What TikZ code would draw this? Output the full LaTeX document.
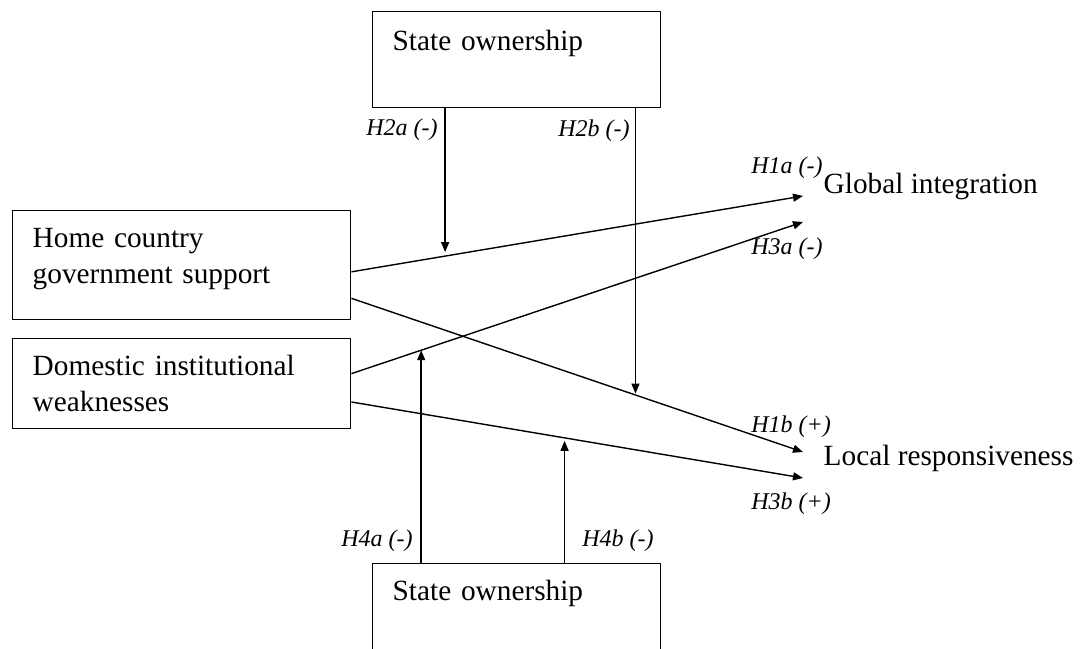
\documentclass[tikz,border=0pt]{standalone}
\usepackage{fontspec}
\setmainfont{Liberation Serif}
\usetikzlibrary{arrows.meta}
\usetikzlibrary{calc}

\tikzset{
  boxnode/.style={draw,anchor=north west,align=left,inner xsep=10pt,inner ysep=0pt,text height=18.5pt,font=\fontsize{14.65}{18}\selectfont},
  outcome/.style={anchor=base west,inner sep=0pt,font=\fontsize{14.65}{18}\selectfont},
  hyplabel/.style={inner sep=0pt,font=\fontsize{12}{14}\selectfont\itshape},
}

\begin{document}
\begin{tikzpicture}[x=0.5pt,y=-0.5pt,>={Triangle[length=5pt,width=4pt]},line join=bevel,line width=0.7pt]
%%
\useasboundingbox (0,0) rectangle (1080,648);
\node (node_so_top) at (372,11) [boxnode,text width=124pt,text height=19.5pt,text depth=28.5pt] {State ownership};
  \node (node_home) at (12,210) [boxnode,text width=149pt,text depth=36pt] {Home country\\government support};
  \node (node_dom) at (12,338) [boxnode,text width=149pt,text depth=26.5pt] {Domestic institutional\\weaknesses};
  \node (node_so_bot) at (372,563) [boxnode,text width=124pt,text depth=29.5pt] {State ownership};
  \node (node_global) at (823,193) [outcome] {Global integration};
  \node (node_local) at (823,465) [outcome] {Local responsiveness};
%
  \coordinate (home_a) at ($(node_home.north east)!0.56!(node_home.south east)$);
  \coordinate (home_b) at ($(node_home.north east)!0.80!(node_home.south east)$);
  \coordinate (dom_a) at ($(node_dom.north east)!0.39!(node_dom.south east)$);
  \coordinate (dom_b) at ($(node_dom.north east)!0.70!(node_dom.south east)$);
  \coordinate (gi_a) at ([shift={(-20,3)}]node_global.base west);
  \coordinate (gi_b) at ([shift={(-20,29)}]node_global.base west);
  \coordinate (lr_a) at ([shift={(-20,-13)}]node_local.base west);
  \coordinate (lr_b) at ([shift={(-20,13)}]node_local.base west);
  \coordinate (m_2a) at ($(home_a)!0.2075!(gi_a)$);
  \coordinate (m_2b) at ($(home_b)!0.629!(lr_a)$);
  \coordinate (m_4a) at ($(dom_a)!0.1545!(gi_b)$);
  \coordinate (m_4b) at ($(dom_b)!0.472!(lr_b)$);
%
  \node (lab_h2a) at (402,130) [hyplabel] {H2a (-)};
  \node (lab_h2b) at (594,131) [hyplabel] {H2b (-)};
  \node (lab_h1a) at (787,168) [hyplabel] {H1a (-)};
  \node (lab_h3a) at (787,249) [hyplabel] {H3a (-)};
  \node (lab_h1b) at (791,427) [hyplabel] {H1b (+)};
  \node (lab_h3b) at (791,504) [hyplabel] {H3b (+)};
  \node (lab_h4a) at (377,541) [hyplabel] {H4a (-)};
  \node (lab_h4b) at (618,541) [hyplabel] {H4b (-)};
%
  \draw [black,->] (home_a) -- (gi_a);
  \draw [black,->] (home_b) -- (lr_a);
  \draw [black,->] (dom_a) -- (gi_b);
  \draw [black,->] (dom_b) -- (lr_b);
  \draw [black,->,shorten >=2pt] (m_2a |- node_so_top.south) -- (m_2a);
  \draw [black,->,shorten >=0.7pt] (m_2b |- node_so_top.south) -- (m_2b);
  \draw [black,->] (m_4a |- node_so_bot.north) -- (m_4a);
  \draw [black,->,shorten >=1.5pt] (m_4b |- node_so_bot.north) -- (m_4b);
%
\end{tikzpicture}
\end{document}
